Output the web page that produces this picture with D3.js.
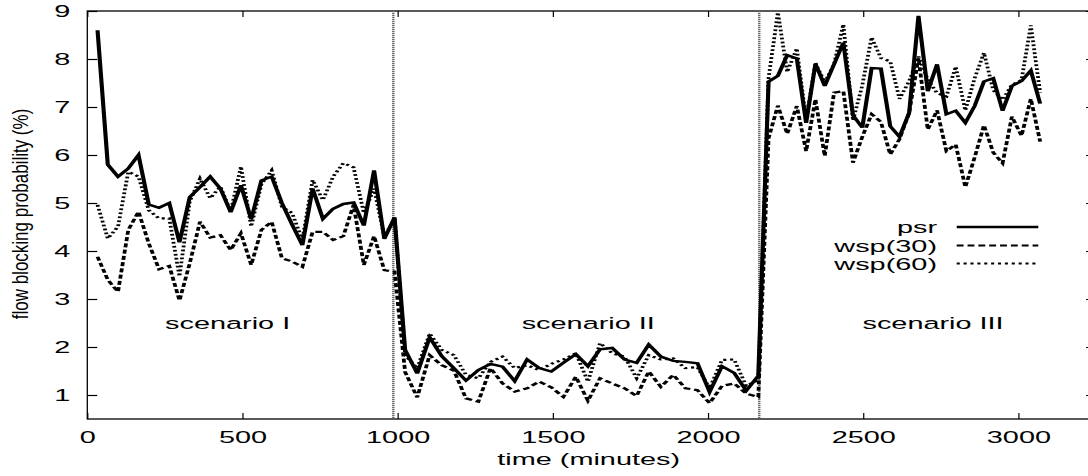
<!DOCTYPE html>
<html>
<head>
<meta charset="utf-8">
<script src="https://cdn.jsdelivr.net/npm/d3@7"></script>
<style>
  html, body { margin: 0; padding: 0; background: #fff; }
  svg { display: block; font-family: "Liberation Sans", Arial, Helvetica, sans-serif; }
</style>
</head>
<body>
<div id="chart"></div>
<script>
// time stamps (minutes) of the samples, three scenarios of 30 samples each
const minutes = [
  33, 66, 99, 132, 165, 198, 231, 264, 297, 330, 363, 396, 429, 462, 495,
  528, 561, 594, 627, 660, 693, 726, 759, 792, 825, 858, 891, 924, 957, 990,
  1024, 1063, 1103, 1142, 1181, 1220, 1260, 1299, 1338, 1377, 1417, 1456, 1495, 1534, 1574,
  1613, 1652, 1691, 1731, 1770, 1809, 1848, 1888, 1927, 1966, 2005, 2045, 2084, 2123, 2162,
  2195, 2225, 2255, 2286, 2316, 2346, 2376, 2406, 2436, 2467, 2497, 2527, 2557, 2587, 2617,
  2648, 2678, 2708, 2738, 2768, 2798, 2829, 2859, 2889, 2919, 2949, 2979, 3010, 3040, 3070
];

const psr = [
  8.6, 5.8, 5.55, 5.72, 6.0, 4.97, 4.9, 5.0, 4.18, 5.12, 5.33, 5.55, 5.3, 4.81, 5.37,
  4.66, 5.47, 5.55, 5.0, 4.55, 4.12, 5.3, 4.67, 4.88, 4.98, 5.01, 4.53, 5.68, 4.25, 4.7,
  1.94, 1.45, 2.2, 1.81, 1.56, 1.3, 1.52, 1.65, 1.59, 1.29, 1.74, 1.56, 1.49, 1.67, 1.85,
  1.6, 1.95, 1.98, 1.74, 1.67, 2.05, 1.8, 1.71, 1.69, 1.66, 1.06, 1.6, 1.46, 1.09, 1.4,
  7.53, 7.65, 8.08, 8.01, 6.67, 7.9, 7.44, 7.89, 8.34, 6.83, 6.57, 7.81, 7.8, 6.6, 6.38,
  6.88, 8.9, 7.33, 7.89, 6.85, 6.92, 6.67, 7.02, 7.53, 7.6, 6.92, 7.44, 7.54, 7.76, 7.07
];

const wsp30 = [
  3.88, 3.4, 3.15, 4.44, 4.82, 4.16, 3.62, 3.69, 2.97, 3.74, 4.61, 4.28, 4.33, 4.02, 4.37,
  3.71, 4.44, 4.61, 3.85, 3.78, 3.67, 4.4, 4.4, 4.23, 4.31, 4.96, 3.71, 4.31, 3.6, 3.57,
  1.48, 0.95, 1.83, 1.62, 1.51, 0.93, 0.86, 1.56, 1.24, 1.07, 1.14, 1.28, 1.16, 0.96, 1.38,
  0.88, 1.35, 1.24, 1.14, 0.98, 1.49, 1.17, 1.42, 1.14, 1.1, 0.83, 1.19, 1.24, 1.03, 0.96,
  6.35, 7.03, 6.44, 7.02, 6.08, 7.16, 5.98, 7.3, 7.33, 5.84, 6.38, 6.85, 6.69, 6.01, 6.33,
  6.88, 8.02, 6.53, 6.93, 6.08, 6.22, 5.33, 5.95, 6.62, 6.05, 5.83, 6.8, 6.4, 7.17, 6.28
];

const wsp60 = [
  4.96, 4.26, 4.51, 5.65, 5.55, 4.85, 4.68, 4.68, 3.47, 5.03, 5.51, 5.1, 5.34, 4.82, 5.76,
  4.51, 5.39, 5.68, 4.92, 4.79, 4.23, 5.48, 5.06, 5.55, 5.83, 5.74, 4.79, 5.3, 4.3, 4.68,
  1.83, 1.56, 2.28, 1.94, 1.83, 1.42, 1.35, 1.69, 1.8, 1.56, 1.62, 1.52, 1.65, 1.74, 1.87,
  1.28, 2.08, 1.87, 1.8, 1.35, 1.83, 1.74, 1.76, 1.56, 1.58, 1.14, 1.73, 1.74, 1.19, 1.31,
  7.6, 8.97, 7.73, 8.22, 6.73, 7.92, 7.51, 7.89, 8.72, 6.72, 7.45, 8.45, 8.02, 7.95, 7.17,
  7.54, 8.05, 7.57, 7.29, 7.22, 7.84, 6.93, 7.6, 8.13, 7.35, 7.15, 7.46, 7.56, 8.7, 7.3
];

const seriesNames = ["psr", "wsp(30)", "wsp(60)"];
const xTicks = [0, 500, 1000, 1500, 2000, 2500, 3000];
const yTicks = [1, 2, 3, 4, 5, 6, 7, 8, 9];
const scenarioNames = ["scenario I", "scenario II", "scenario III"];
const scenarioX = [452, 1614, 2725];
const scenarioY = 2.37;
const boundaries = [986, 2165];

// the original figure is stretched sideways, so lines and text are too
const S = 1.72;   // stretch for the plotted lines
const TS = 1.75;  // stretch for horizontal text
const YS = 1.3;   // stretch for the rotated y label

const W = 1088, H = 476;
const pL = 87.3, pR = 1096, pT = 11, pB = 419;

const svg = d3.select("#chart").append("svg")
  .attr("width", W).attr("height", H);

const x = d3.scaleLinear().domain([0, 3250]).range([pL, pR]);
const y = d3.scaleLinear().domain([0.5, 9]).range([pB, pT]);

const styles = [
  { dash: null, width: 2.4 },
  { dash: "4,2.3", width: 2.2 },
  { dash: "1.8,2.2", width: 2.2 }
];
const values = [psr, wsp30, wsp60];

// axes (ticks point inward, like gnuplot)
const axisStyle = g => {
  g.select(".domain").remove();
  g.selectAll("line").attr("stroke", "#000").attr("stroke-width", 1.2);
};

svg.append("g")
  .attr("transform", `translate(0,${pB})`)
  .call(d3.axisBottom(x).tickValues(xTicks).tickFormat(d3.format("d"))
    .tickSize(-6).tickSizeOuter(0).tickPadding(12))
  .call(axisStyle)
  .call(g => g.selectAll("text")
    .attr("fill", "#000").style("font-size", "16.5px")
    .attr("transform", `scale(${TS},1)`));

svg.append("g")
  .attr("transform", `translate(0,${pT})`)
  .call(d3.axisTop(x).tickValues(xTicks).tickSize(-6).tickSizeOuter(0).tickFormat(""))
  .call(axisStyle);

svg.append("g")
  .attr("transform", `translate(${pL},0)`)
  .call(d3.axisLeft(y).tickValues(yTicks).tickFormat(d3.format("d"))
    .tickSize(-10).tickSizeOuter(0).tickPadding(17))
  .call(axisStyle)
  .call(g => g.selectAll("text")
    .attr("fill", "#000").style("font-size", "16.5px")
    .attr("x", -17 / TS)
    .attr("transform", `scale(${TS},1)`));

svg.append("g")
  .attr("transform", `translate(${pR},0)`)
  .call(d3.axisRight(y).tickValues(yTicks).tickSize(-10).tickSizeOuter(0).tickFormat(""))
  .call(axisStyle);

// frame
svg.append("rect")
  .attr("x", pL).attr("y", pT)
  .attr("width", pR - pL).attr("height", pB - pT)
  .attr("fill", "none").attr("stroke", "#000").attr("stroke-width", 1.3);

// scenario boundaries
svg.selectAll(".boundary")
  .data(boundaries)
  .enter().append("line")
  .attr("class", "boundary")
  .attr("x1", d => x(d)).attr("x2", d => x(d))
  .attr("y1", pT).attr("y2", pB)
  .attr("stroke", "#666").attr("stroke-width", 2.4)
  .attr("stroke-dasharray", "1.2,0.8");

// scenario labels
svg.selectAll(".scenario")
  .data(scenarioNames)
  .enter().append("text")
  .attr("class", "scenario")
  .attr("transform", (d, i) => `translate(${x(scenarioX[i])},${y(scenarioY)}) scale(${TS},1)`)
  .attr("text-anchor", "middle")
  .style("font-size", "16.5px")
  .text(d => d);

// data lines, drawn in a sideways-stretched group
const plot = svg.append("g").attr("transform", `scale(${S},1)`);
const line = d3.line()
  .x(d => x(d[0]) / S)
  .y(d => y(d[1]));

plot.selectAll(".series")
  .data(values)
  .enter().append("path")
  .attr("class", "series")
  .attr("d", v => line(v.map((val, i) => [minutes[i], val])))
  .attr("fill", "none")
  .attr("stroke", "#000")
  .attr("stroke-linejoin", "miter")
  .attr("stroke-width", (d, i) => styles[i].width)
  .attr("stroke-dasharray", (d, i) => styles[i].dash);

// legend
const legX = 937, legY = [233, 251.5, 269.5];
svg.selectAll(".leg-text")
  .data(seriesNames)
  .enter().append("text")
  .attr("class", "leg-text")
  .attr("transform", (d, i) => `translate(${legX},${legY[i]}) scale(${TS},1)`)
  .attr("text-anchor", "end")
  .style("font-size", "16.5px")
  .text(d => d);

plot.selectAll(".leg-line")
  .data(seriesNames)
  .enter().append("line")
  .attr("class", "leg-line")
  .attr("x1", 956.7 / S).attr("x2", 1038.3 / S)
  .attr("y1", (d, i) => legY[i] - 6).attr("y2", (d, i) => legY[i] - 6)
  .attr("stroke", "#000")
  .attr("stroke-width", (d, i) => styles[i].width)
  .attr("stroke-dasharray", (d, i) => styles[i].dash);

// axis titles
svg.append("text")
  .attr("transform", `translate(${(pL + pR) / 2 - 3},465) scale(${TS},1)`)
  .attr("text-anchor", "middle")
  .style("font-size", "16.5px")
  .text("time (minutes)");

svg.append("text")
  .attr("transform", `translate(27.8,214) scale(${YS},1) rotate(-90)`)
  .attr("text-anchor", "middle")
  .style("font-size", "17px")
  .text("flow blocking probability (%)");
</script>
</body>
</html>
